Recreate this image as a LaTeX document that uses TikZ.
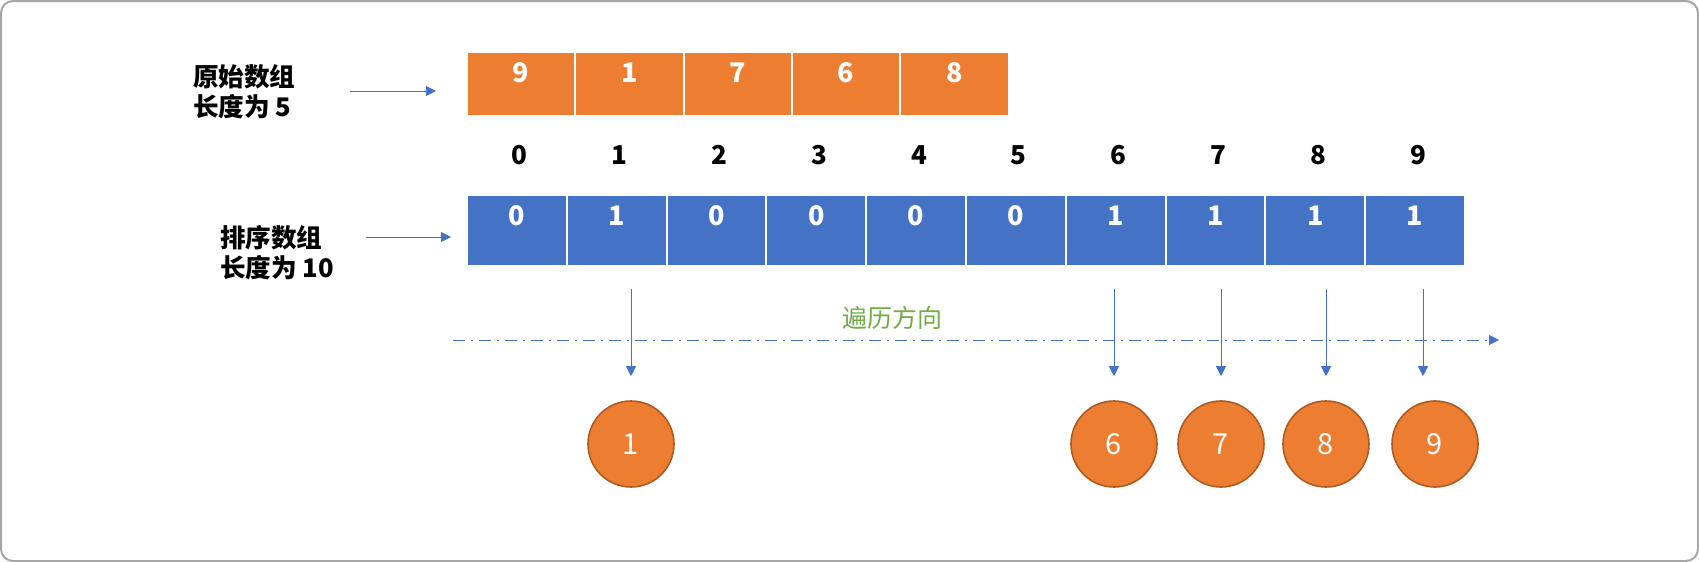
\documentclass[tikz,border=0pt]{standalone}
\usepackage{fontspec}
\setmainfont{Noto Sans CJK SC}
\usepackage{tikz}
\usetikzlibrary{arrows.meta}
\definecolor{cellO}{RGB}{237,125,49}
\definecolor{cellB}{RGB}{68,114,196}
\definecolor{walk}{RGB}{112,173,71}
\definecolor{ring}{RGB}{174,90,33}
\definecolor{frame}{RGB}{166,166,166}
\tikzset{
  cell/.style={draw=white,line width=1pt,minimum height=32pt,inner sep=0pt},
  ocell/.style={cell,fill=cellO,minimum width=54.15pt},
  bcell/.style={cell,fill=cellB,minimum width=49.9pt,minimum height=35.5pt},
  num/.style={text=white,font=\fontsize{13.5}{15}\selectfont\bfseries,inner sep=0pt},
  idx/.style={font=\fontsize{13}{14}\selectfont\bfseries},
  tag/.style={anchor=west,align=left,font=\fontsize{12.8}{15}\selectfont\bfseries},
  pick/.style={circle,draw=ring,line width=0.8pt,fill=cellO,minimum size=43pt,inner sep=0pt,
    text=white,font=\fontsize{14.5}{16}\selectfont},
  flow/.style={draw=cellB,line width=0.5pt,-{Triangle[length=5pt,width=5pt]}},
}

\begin{document}
\begin{tikzpicture}[x=0.5pt,y=-0.5pt]
  \useasboundingbox (0,0) rectangle (1699,562);
  \draw[frame,line width=1pt,rounded corners=6pt] (1,1) rectangle (1698,561);
  \foreach \n [count=\i from 0] in {9,1,7,6,8}
     \node[ocell,label={[num,anchor=center,yshift=-11pt]north:\n}] (o\i) at (521.15+108.3*\i,84) {};
  \foreach \n [count=\i from 0] in {0,1,0,0,0,0,1,1,1,1}{
     \node[bcell,label={[num,anchor=center,yshift=-11pt]north:\n}] (s\i) at (516.9+99.8*\i,230.5) {};
     \node[idx] (k\i) at (519.9+99.8*\i,155) {\i};}
  \node[tag] (lo) at (186,92) {原始数组\\长度为 5};
  \node[tag] (lb) at (213,253) {排序数组\\长度为 10};
  \coordinate (po) at (350,91);
  \coordinate (pb) at (366,237);
  \draw[flow] (po) -- ([xshift=-15pt]o0.west |- po);
  \draw[flow] (pb) -- ([xshift=-7.5pt]s0.west |- pb);
  \coordinate (ws) at (453,340);
  \coordinate (we) at (1499,340);
  \draw[flow,dash pattern=on 6pt off 3pt on 1pt off 3pt] (ws) -- (we);
  \node[text=walk,font=\fontsize{12.5}{15}\selectfont] (wt) at (892,318) {遍历方向};
  \foreach \n/\x in {1/631,6/1114,7/1221,8/1326,9/1435}
     \node[pick] (c\n) at (\x,444) {\n};
  \foreach \n/\dx in {1/0,6/0,7/0,8/0,9/-6}
     \draw[flow] ([xshift=\dx pt,yshift=-10.75pt]c\n.north |- s\n.south) -- ([xshift=\dx pt,yshift=12pt]c\n.north);
\end{tikzpicture}
\end{document}
